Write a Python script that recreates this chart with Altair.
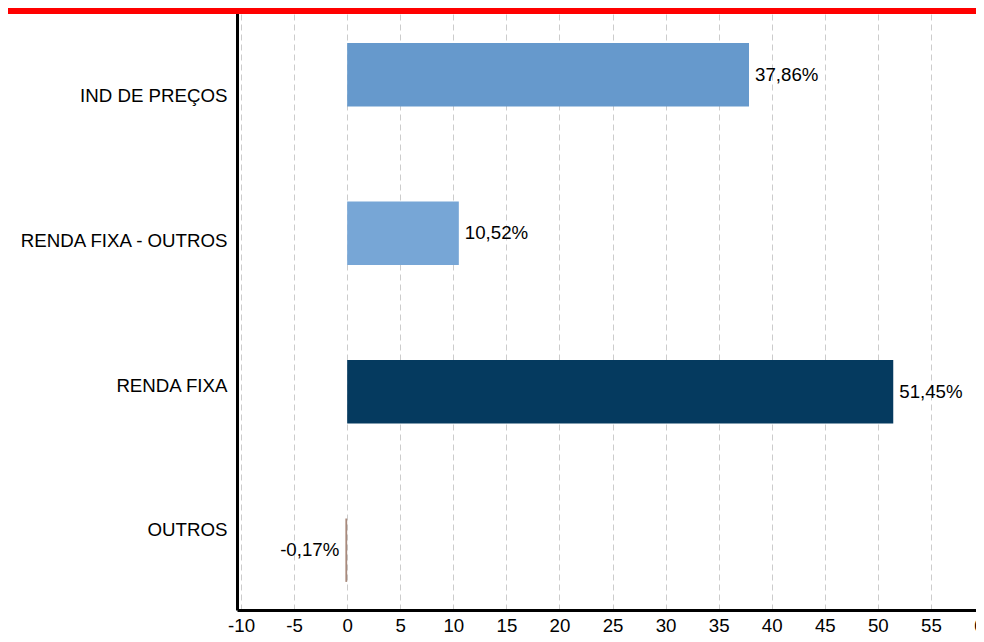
import altair as alt
import pandas as pd

categories = ["IND DE PREÇOS", "RENDA FIXA - OUTROS", "RENDA FIXA", "OUTROS"]
values = [37.86, 10.52, 51.45, -0.17]
colors = ["#6699cc", "#77a6d6", "#053a5f", "#a88a7c"]
x_ticks = list(range(-10, 61, 5))

labels = [f"{v:.2f}".replace(".", ",") + "%" for v in values]
df = pd.DataFrame({"cat": categories, "val": values, "label": labels})

FONT = "Liberation Sans"
FS = 18.7

y_bar = alt.Y(
    "cat:N",
    sort=categories,
    axis=None,
    scale=alt.Scale(type="band", paddingInner=0.6, paddingOuter=0.2243, align=0.605),
)
x_enc = alt.X(
    "val:Q",
    scale=alt.Scale(domain=[-10.38, 60], nice=False, zero=False),
    axis=alt.Axis(
        values=x_ticks,
        title=None,
        ticks=False,
        tickSize=0,
        labelExpr="'' + datum.value",
        labelFontSize=FS,
        labelFont=FONT,
        labelColor="#000000",
        labelPadding=6,
        labelFlush=False,
        domainColor="#000000",
        domainWidth=3,
        grid=True,
        gridColor="#cccccc",
        gridDash=[6, 4],
        gridWidth=1,
    ),
)

bars = alt.Chart(df).mark_bar().encode(
    y=y_bar,
    x=x_enc,
    x2=alt.datum(0),
    color=alt.Color("cat:N", scale=alt.Scale(domain=categories, range=colors), legend=None),
)

pos_text = alt.Chart(df).transform_filter("datum.val >= 0").mark_text(
    align="left", baseline="middle", dx=6, fontSize=FS, font=FONT, color="#000000"
).encode(y=y_bar, x=alt.X("val:Q"), text="label:N")

neg_text = alt.Chart(df).transform_filter("datum.val < 0").mark_text(
    align="right", baseline="middle", dx=-6, fontSize=FS, font=FONT, color="#000000"
).encode(y=y_bar, x=alt.X("val:Q"), text="label:N")

bar_layer = alt.layer(bars, pos_text, neg_text)

label_layer = alt.Chart(df).mark_point(opacity=0).encode(
    y=alt.Y(
        "cat:N",
        sort=categories,
        scale=alt.Scale(type="point", padding=0.6083, align=0.545),
        axis=alt.Axis(
            orient="left",
            title=None,
            ticks=False,
            tickSize=0,
            grid=False,
            labelLimit=0,
            labelFontSize=FS,
            labelFont=FONT,
            labelColor="#000000",
            labelPadding=10,
            domainColor="#000000",
            domainWidth=3,
        ),
    ),
    x=alt.X("val:Q"),
)

banner = alt.Chart(pd.DataFrame({"a": [0]})).mark_rect(color="#ff0000").encode(
    x=alt.value(-229), x2=alt.value(747), y=alt.value(8), y2=alt.value(14)
)

chart = (
    alt.layer(bar_layer, label_layer, banner)
    .resolve_scale(y="independent")
    .properties(
        width=747,
        height=610,
        autosize=alt.AutoSizeParams(type="none"),
        padding={"left": 229, "top": -8, "right": -8, "bottom": 24},
    )
    .configure_view(stroke=None)
)

chart.save("out.html", embed_options={"renderer": "svg", "actions": False})
